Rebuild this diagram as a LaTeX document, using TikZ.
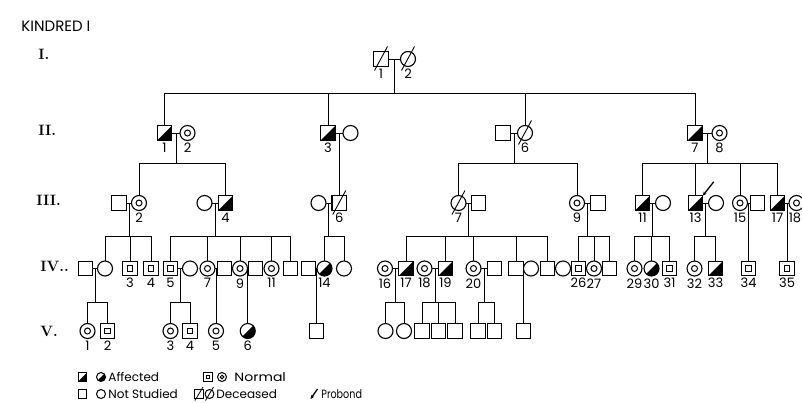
\documentclass[tikz,border=0pt]{standalone}
\usepackage{fontspec}
\newfontfamily\pedsans{Poppins}
\usetikzlibrary{calc}
\usetikzlibrary{arrows.meta}

\tikzset{
  ml/.style={draw, rectangle, line width=1.1pt, minimum size=14.5pt, inner sep=0pt, outer sep=0pt},
  fm/.style={draw, circle, line width=1.1pt, minimum size=15pt, inner sep=0pt, outer sep=0pt},
  aff/.style={path picture={\fill (path picture bounding box.south west) -- (path picture bounding box.south east) -- (path picture bounding box.north east) -- cycle;}},
  nm/.style={path picture={\draw[line width=1pt] ($(path picture bounding box.center)+(-#1,-#1)$) rectangle ($(path picture bounding box.center)+(#1,#1)$);}},
  nm/.default=2.8,
  nf/.style={path picture={\draw[line width=1pt] (path picture bounding box.center) circle (#1);}},
  nf/.default=3pt,
  lbl/.style={font=\pedsans\fontsize{13}{14}\selectfont, inner sep=0.5pt},
  every label/.style={lbl},
  label distance=1.5pt,
  gen/.style={anchor=west, inner sep=0pt, font=\bfseries\fontsize{15}{16}\selectfont},
  key/.style={anchor=west, inner sep=0pt, font=\pedsans\fontsize{12}{14}\selectfont},
  lsq/.style={ml, minimum size=8.5pt, line width=1pt},
  lci/.style={fm, minimum size=9pt, line width=1pt},
  probond/.style={-{Stealth[length=4pt,width=3.5pt]}, line width=1.3pt},
}

\begin{document}
\begin{tikzpicture}[x=1pt, y=-1pt, line width=0.9pt]
\useasboundingbox (0,0) rectangle (802,402);

\node[anchor=west, inner sep=0pt, font=\pedsans\fontsize{15}{16}\selectfont] (title) at (21,26.5) {KINDRED I};

% generation labels
\node[gen] (gI)   at (38,54)  {I.};
\node[gen] (gII)  at (38,130) {II.};
\node[gen] (gIII) at (36,200) {III.};
\node[gen] (gIV)  at (40,266) {IV..};
\node[gen] (gV)   at (40,331) {V.};

% --- generation I ---
\node[ml, label=below:1] (I1) at (381,59) {};
\node[fm, label=below:2] (I2) at (408,59) {};

% --- generation II ---
\node[ml, aff, label=below:1] (II1) at (164.5,133) {};
\node[fm, nf, label=below:2]  (II2) at (187.5,133) {};
\node[ml, aff, label=below:3] (II3) at (328,133) {};
\node[fm]                     (II4) at (350.5,133) {};
\node[ml]                     (II5) at (503,133) {};
\node[fm, label=below:6]      (II6) at (525,133) {};
\node[ml, aff, label=below:7] (II7) at (695,133) {};
\node[fm, nf, label=below:8]  (II8) at (719.5,133) {};

% --- generation III ---
\node[ml]                      (III1)  at (119,203) {};
\node[fm, nf, label=below:2]   (III2)  at (139,203) {};
\node[fm]                      (III3)  at (204.5,203) {};
\node[ml, aff, label=below:4]  (III4)  at (225.5,203) {};
\node[fm]                      (III5)  at (318.5,203) {};
\node[ml, label=below:6]       (III6)  at (339.25,203) {};
\node[fm, label=below:7]       (III7)  at (458.5,203) {};
\node[ml]                      (III8)  at (478.5,203) {};
\node[fm, nf, label=below:9]   (III9)  at (577,203) {};
\node[ml]                      (III10) at (598,203) {};
\node[ml, aff, label=below:11] (III11) at (642.5,203) {};
\node[fm]                      (III12) at (663,203) {};
\node[ml, aff, label=below:13] (III13) at (695.5,203) {};
\node[fm]                      (III14) at (716,203) {};
\node[fm, nf, label=below:15]  (III15) at (740,203) {};
\node[ml]                      (III16) at (757.5,203) {};
\node[ml, aff, label=below:17] (III17) at (777.5,203) {};
\node[fm, nf, label={[xshift=-1.5pt]below:18}] (III18) at (796.5,203) {};

% --- generation IV ---
\node[ml]                      (IV1)  at (85.5,268.5) {};
\node[fm]                      (IV2)  at (105,268.5) {};
\node[ml, nm, label=below:3]   (IV3)  at (130,268.5) {};
\node[ml, nm, label=below:4]   (IV4)  at (151,268.5) {};
\node[ml, nm, label=below:5]   (IV5)  at (170.5,268.5) {};
\node[fm]                      (IV6)  at (190,268.5) {};
\node[fm, nf, label=below:7]   (IV7)  at (207.5,268.5) {};
\node[ml]                      (IV8)  at (224.5,268.5) {};
\node[fm, nf, label=below:9]   (IV9)  at (240,268.5) {};
\node[ml]                      (IV10) at (255.5,268.5) {};
\node[fm, nf, label=below:11]  (IV11) at (271.5,268.5) {};
\node[ml]                      (IV12) at (290.5,268.5) {};
\node[ml]                      (IV13) at (308.5,268.5) {};
\node[fm, aff, label=below:14] (IV14) at (324.5,268.5) {};
\node[fm]                      (IV15) at (344,268.5) {};
\node[fm, nf, label=below:16]  (IV16) at (385,268.5) {};
\node[ml, aff, label=below:17] (IV17) at (406,268.5) {};
\node[fm, nf, label=below:18]  (IV18) at (424.5,268.5) {};
\node[ml, aff, label=below:19] (IV19) at (445.5,268.5) {};
\node[fm, nf, label=below:20]  (IV20) at (473.5,268.5) {};
\node[ml]                      (IV21) at (494.5,268.5) {};
\node[ml]                      (IV22) at (516,268.5) {};
\node[fm]                      (IV23) at (531,268.5) {};
\node[ml]                      (IV24) at (547.5,268.5) {};
\node[fm]                      (IV25) at (563,268.5) {};
\node[ml, nm, label=below:26]  (IV26) at (578.5,268.5) {};
\node[fm, nf, label=below:27]  (IV27) at (594,268.5) {};
\node[ml]                      (IV28) at (609.5,268.5) {};
\node[fm, nf, label=below:29]  (IV29) at (634.5,268.5) {};
\node[fm, aff, label=below:30] (IV30) at (651.5,268.5) {};
\node[ml, nm, label=below:31]  (IV31) at (669.5,268.5) {};
\node[fm, nf, label=below:32]  (IV32) at (694.5,268.5) {};
\node[ml, aff, label=below:33] (IV33) at (715.5,268.5) {};
\node[ml, nm, label=below:34]  (IV34) at (748.5,268.5) {};
\node[ml, nm, label=below:35]  (IV35) at (787,268.5) {};

% --- generation V ---
\node[fm, nf, label=below:1]  (V1)  at (87.5,331) {};
\node[ml, nm, label=below:2]  (V2)  at (107.5,331) {};
\node[fm, nf, label=below:3]  (V3)  at (170.5,331) {};
\node[ml, nm, label=below:4]  (V4)  at (190,331) {};
\node[fm, nf, label=below:5]  (V5)  at (216,331) {};
\node[fm, aff, label=below:6] (V6)  at (247.75,331) {};
\node[ml]                     (V7)  at (316.5,331) {};
\node[fm]                     (V8)  at (385.5,331) {};
\node[fm]                     (V9)  at (404,331) {};
\node[ml]                     (V10) at (422,331) {};
\node[ml]                     (V11) at (438.5,331) {};
\node[ml]                     (V12) at (455,331) {};
\node[ml]                     (V13) at (478,331) {};
\node[ml]                     (V14) at (494.5,331) {};
\node[ml]                     (V15) at (523.5,331) {};

% marriages
\foreach \a/\b in {I1/I2, II1/II2, II3/II4, II5/II6, II7/II8,
    III1/III2, III3/III4, III5/III6, III7/III8, III9/III10, III11/III12,
    III13/III14, III15/III16, III17/III18,
    IV1/IV2, IV5/IV6, IV7/IV8, IV9/IV10, IV13/IV14, IV16/IV17,
    IV18/IV19, IV20/IV21, IV22/IV23, IV24/IV25}
  \draw (\a) -- (\b);

% sibships
\foreach \a/\b/\s/\first/\last/\kids in {
    I1/I2/93/II1/II7/{II3,II6},
    II1/II2/163/III2/III4/{III2},
    II5/II6/163/III7/III9/{III7},
    II7/II8/163/III11/III17/{III13,III15},
    III1/III2/236.5/IV2/IV4/{IV3},
    III3/III4/236.5/IV5/IV12/{IV7,IV9,IV11},
    III5/III6/236.5/IV14/IV15/{IV14},
    III7/III8/236.5/IV17/IV24/{IV19,IV20,IV22},
    III9/III10/236.5/IV26/IV28/{IV27},
    III11/III12/236.5/IV29/IV31/{IV30},
    III13/III14/236.5/IV32/IV33/{IV32},
    IV1/IV2/302.5/V1/V2/{V1},
    IV5/IV6/302.5/V3/V4/{V3},
    IV16/IV17/302.5/V8/V9/{V8},
    IV18/IV19/302.5/V10/V12/{V11},
    IV20/IV21/302.5/V13/V14/{V13}}
{
  \coordinate (m) at ($(\a)!.5!(\b)$);
  \draw (m) -- (m |- 0,\s);
  \draw (\first.north) |- (\last.north |- 0,\s) -- (\last.north);
  \foreach \k in \kids
    \draw (\k.north) -- (\k.north |- 0,\s);
}

% only children
\foreach \a/\b/\k in {II3/II4/III6, III15/III16/IV34, III17/III18/IV35,
    IV7/IV8/V5, IV9/IV10/V6, IV13/IV14/V7, IV22/IV23/V15}
{
  \coordinate (m) at ($(\a)!.5!(\b)$);
  \draw (m) -- (m |- \k.north);
}

% deceased
\foreach \n in {I1,I2,II6,III6,III7}
  \draw ($(\n)+(-6.5,11.5)$) -- ($(\n)+(6.5,-12.5)$);

% probond
\draw[probond] ($(III13.north east)+(11,-14)$) -- (III13.north east);

% --- legend ---
\node[lsq, aff] (kA1) at (82.5,377) {};
\node[lci, aff] (kA2) at (101,377) {};
\node[key] (kA) at (108,377) {Affected};
\node[lsq, nm=1.6] (kN1) at (208,377) {};
\node[lci, nf=1.8pt] (kN2) at (222,377) {};
\node[key] (kN) at (234,377) {\scalebox{1.17}[1]{Normal}};
\node[lsq] (kS1) at (82.5,394) {};
\node[lci] (kS2) at (101,394) {};
\node[key] (kS) at (108,394) {Not Studied};
\node[lsq] (kD1) at (199,394) {};
\node[lci] (kD2) at (209.5,394) {};
\foreach \n in {kD1,kD2}
  \draw[line width=0.8pt] ($(\n)+(-4,6.5)$) -- ($(\n)+(4,-7)$);
\node[key] (kD) at (216,394) {Deceased};
\coordinate (kP) at (310.5,399);
\draw[probond] ($(kP)+(7,-10)$) -- (kP);
\node[key] (kPr) at (321,394) {\scalebox{0.8}[1]{Probond}};

\end{tikzpicture}
\end{document}
